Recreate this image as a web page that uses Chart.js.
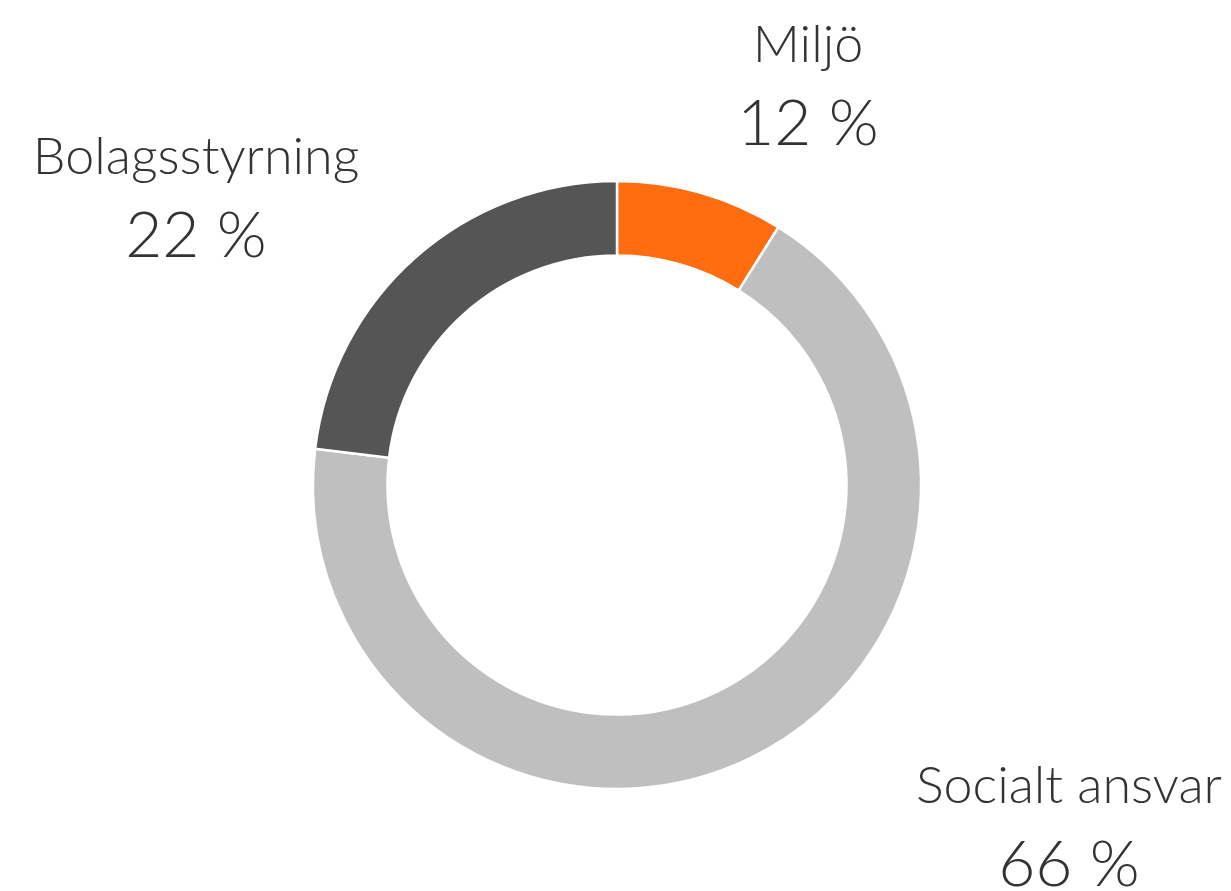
<!DOCTYPE html>
<html>
<head>
<meta charset="utf-8">
<script src="https://cdn.jsdelivr.net/npm/chart.js@4.4.1/dist/chart.umd.min.js"></script>
<style>
  html, body { margin: 0; padding: 0; background: #ffffff; }
  #wrap { width: 1231px; height: 891px; position: relative; }
</style>
</head>
<body>
<div id="wrap"><canvas id="chart"></canvas></div>
<script>
// Categories, drawn clockwise from 12 o'clock
const categories = ['Miljö', 'Socialt ansvar', 'Bolagsstyrning'];
// Arc shares as drawn in the picture
const shares = [8.9, 68.0, 23.1];
// Printed percentage labels
const percentLabels = ['12 %', '66 %', '22 %'];
const colors = ['#ff6d10', '#bfbfbf', '#555555'];

// Where each label block sits (canvas px, centre x / baseline of first line)
const labelPos = [
    { x: 808, y: 62 },
    { x: 1069, y: 803 },
    { x: 196, y: 174 }
];

const textColor = '#333333';
const fontFamily = 'Lato, "Open Sans", sans-serif';

// Draw the category name and percentage next to each slice
const labelPlugin = {
    id: 'sliceLabels',
    afterDraw(chart) {
        const ctx = chart.ctx;
        ctx.save();
        ctx.fillStyle = textColor;
        ctx.textAlign = 'center';
        ctx.textBaseline = 'alphabetic';
        categories.forEach((name, i) => {
            const p = labelPos[i];
            ctx.font = '300 52px ' + fontFamily;
            ctx.fillText(name, p.x, p.y);
            ctx.font = '300 64px ' + fontFamily;
            ctx.fillText(percentLabels[i], p.x, p.y + 83);
        });
        ctx.restore();
    }
};

const ctx = document.getElementById('chart').getContext('2d');
const chart = new Chart(ctx, {
    type: 'doughnut',
    data: {
        labels: categories,
        datasets: [{
            data: shares,
            backgroundColor: colors,
            borderColor: '#ffffff',
            borderWidth: 2.5
        }]
    },
    options: {
        responsive: true,
        maintainAspectRatio: false,
        animation: false,
        radius: 304,
        cutout: '75.5%',
        layout: { padding: { top: 79, bottom: 0, left: 3, right: 0 } },
        plugins: {
            legend: { display: false },
            tooltip: { enabled: false }
        }
    },
    plugins: [labelPlugin]
});
</script>
</body>
</html>
